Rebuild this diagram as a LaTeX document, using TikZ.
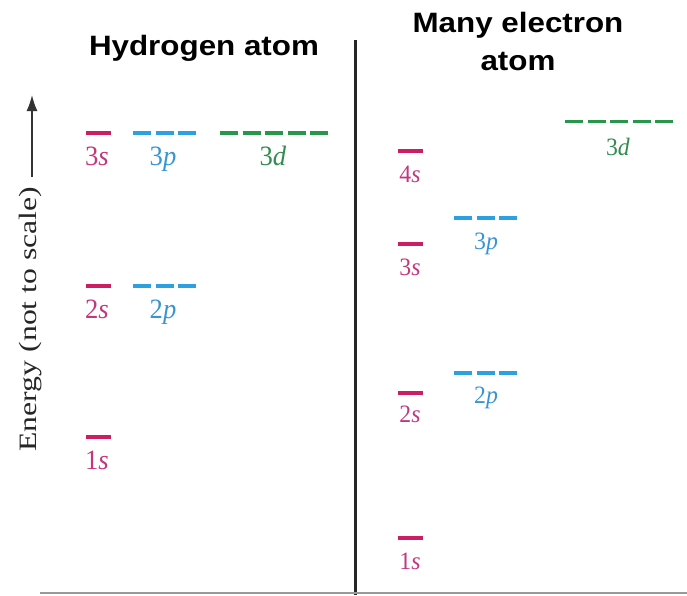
\documentclass[tikz,border=0pt]{standalone}
\usepackage{fontspec}
\setmainfont{Liberation Serif}
\newfontfamily\titlefont{Liberation Sans}
\usetikzlibrary{arrows.meta}
\definecolor{scol}{RGB}{205,30,100}
\definecolor{slab}{RGB}{195,55,125}
\definecolor{pcol}{RGB}{45,160,225}
\definecolor{plab}{RGB}{55,150,210}
\definecolor{dcol}{RGB}{40,150,75}
\definecolor{dlab}{RGB}{50,140,80}
\tikzset{
  sbar/.style={draw=scol, line width=3.2pt},
  pbar/.style={draw=pcol, line width=3.2pt, dash pattern=on 18pt off 4.5pt},
  dbar/.style={draw=dcol, line width=3.2pt, dash pattern=on 18pt off 4.5pt},
  labL/.style={anchor=base, inner sep=0pt, font=\fontsize{28}{30}\selectfont, xscale=0.95, transform shape},
  labR/.style={anchor=base, inner sep=0pt, font=\fontsize{25}{27}\selectfont, xscale=0.95, transform shape},
  title/.style={font=\titlefont\bfseries\fontsize{28}{38}\selectfont, align=center, inner sep=0pt, xscale=1.12, transform shape},
}
\begin{document}
\begin{tikzpicture}[x=1pt, y=-1pt]
\useasboundingbox (0,0) rectangle (687,595);
% titles
\node[title, anchor=base] (th) at (204,55) {Hydrogen atom};
\node[title, anchor=base] (tm1) at (518,32) {Many electron};
\node[title, anchor=base] (tm2) at (518,70) {atom};
% dividers
\coordinate (vtop) at (355,40);
\coordinate (vbot) at (355,595);
\draw[line width=3pt, draw=black!85] (vtop) -- (vbot);
\coordinate (bl) at (40,593);
\coordinate (br) at (687,593);
\draw[line width=2pt, draw=black!40] (bl) -- (br);
% energy axis
\node[rotate=90, inner sep=0pt, text=black!85, font=\fontsize{25}{27}\selectfont, xscale=1.27, transform shape] (elab) at (31,319) {Energy (not to scale)};
\coordinate (atip) at (32,95);
\coordinate (abot) at (32,177);
\draw[line width=1.6pt, draw=black!80, -{Latex[length=16pt,width=11pt]}] (abot) -- (atip);
% hydrogen levels
\draw[sbar] (86,133) -- ++(25,0);
\draw[pbar] (133,133) -- ++(63,0);
\draw[dbar] (220,133) -- ++(108,0);
\node[labL, text=slab] (h3s) at (97,165) {3\textit{s}};
\node[labL, text=plab] (h3p) at (163,165) {3\textit{p}};
\node[labL, text=dlab] (h3d) at (273,165) {3\textit{d}};
\draw[sbar] (86,286) -- ++(25,0);
\draw[pbar] (133,286) -- ++(63,0);
\node[labL, text=slab] (h2s) at (97,318) {2\textit{s}};
\node[labL, text=plab] (h2p) at (163,318) {2\textit{p}};
\draw[sbar] (86,437) -- ++(25,0);
\node[labL, text=slab] (h1s) at (97,469) {1\textit{s}};
% many-electron levels
\draw[dbar] (565,121.5) -- ++(108,0);
\node[labR, text=dlab] (m3d) at (618,155) {3\textit{d}};
\draw[sbar] (398,151) -- ++(25,0);
\node[labR, text=slab] (m4s) at (410,182) {4\textit{s}};
\draw[pbar] (454,218) -- ++(63,0);
\node[labR, text=plab] (m3p) at (486,249) {3\textit{p}};
\draw[sbar] (398,244) -- ++(25,0);
\node[labR, text=slab] (m3s) at (410,275) {3\textit{s}};
\draw[pbar] (454,373) -- ++(63,0);
\node[labR, text=plab] (m2p) at (486,403) {2\textit{p}};
\draw[sbar] (398,393) -- ++(25,0);
\node[labR, text=slab] (m2s) at (410,422) {2\textit{s}};
\draw[sbar] (398,538) -- ++(25,0);
\node[labR, text=slab] (m1s) at (410,569) {1\textit{s}};
\end{tikzpicture}
\end{document}
